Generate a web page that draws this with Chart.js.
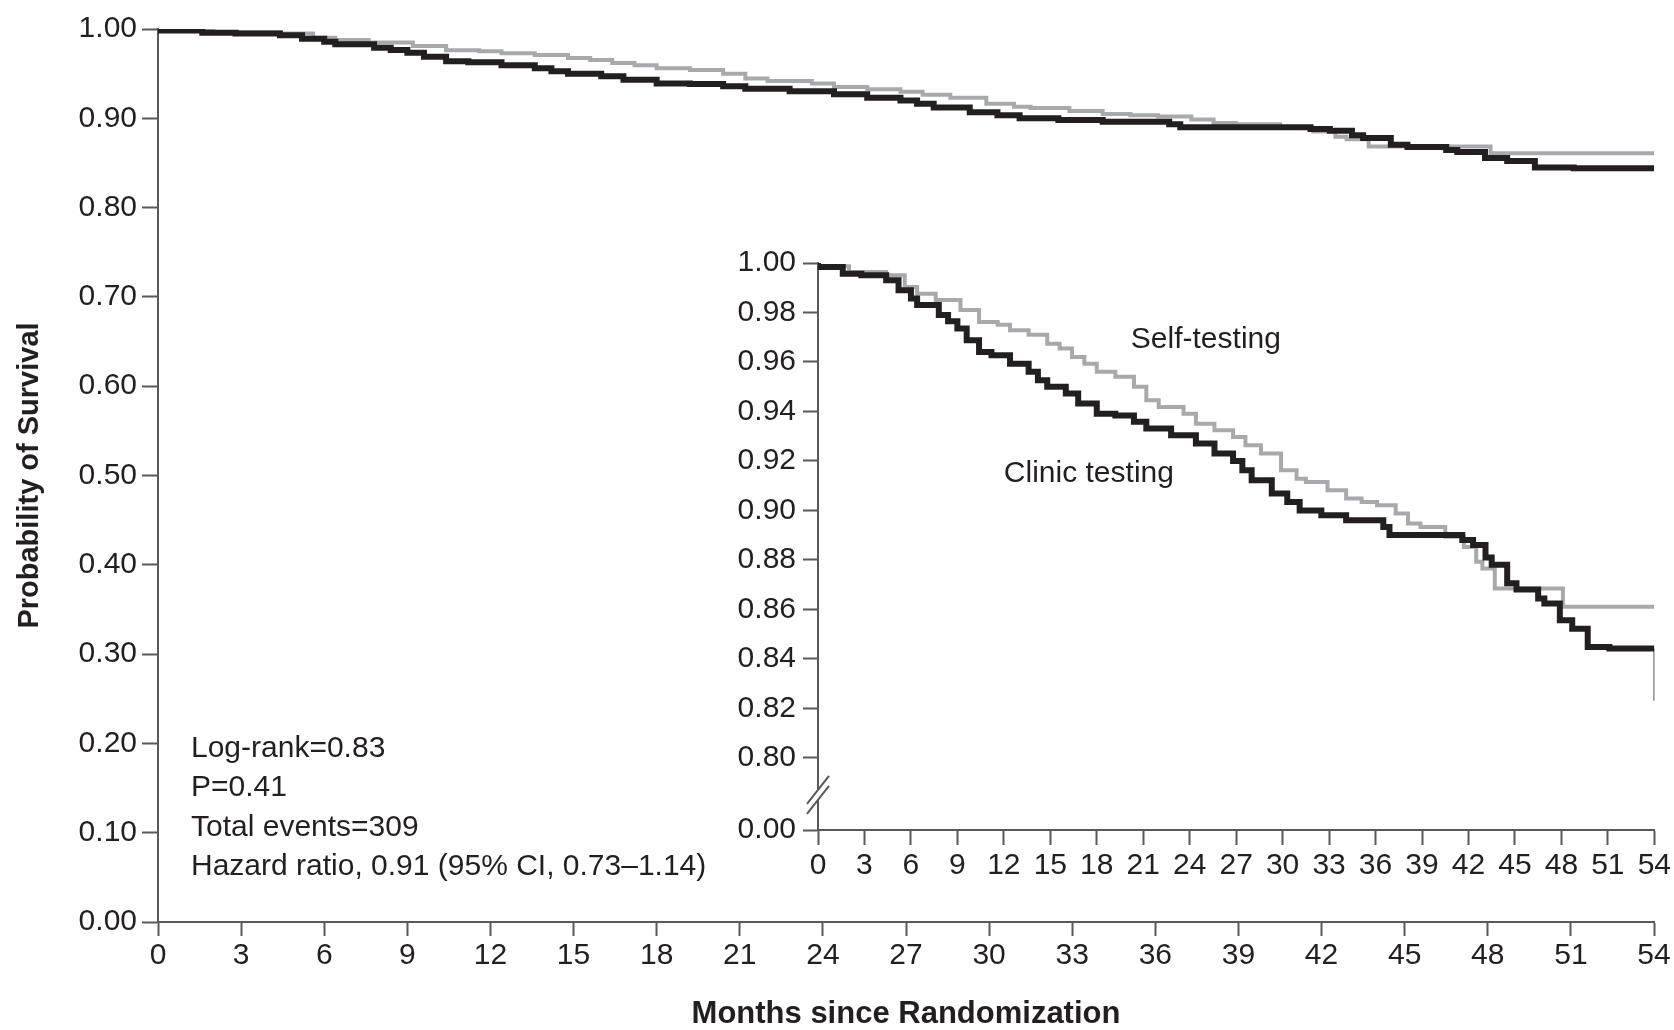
<!DOCTYPE html>
<html>
<head>
<meta charset="utf-8">
<script src="https://cdn.jsdelivr.net/npm/chart.js@4.4.1/dist/chart.umd.min.js"></script>
<style>
  html, body { margin: 0; padding: 0; background: #fff; }
  #wrap { position: relative; width: 1674px; height: 1030px; }
  #main { position: absolute; left: 0; top: 0; }
  #inset { position: absolute; left: 690px; top: 230px; }
</style>
</head>
<body>
<div id="wrap">
  <canvas id="main" width="1674" height="1030"></canvas>
  <canvas id="inset" width="984" height="680"></canvas>
</div>
<script>
// Kaplan-Meier curves (months, survival)
const clinicMonths = [0, 1.6, 2.8, 4.4, 5.2, 6.0, 6.4, 7.8, 8.4, 9.0, 9.6, 10.4, 11.2, 12.4, 13.6, 14.2, 14.8, 16.0, 16.8, 18.0, 19.2, 20.4, 21.2, 22.8, 24.4, 25.6, 26.8, 27.4, 28.0, 29.3, 30.3, 31.1, 32.5, 34.1, 36.5, 36.9, 41.6, 42.3, 43.1, 43.5, 44.5, 45.1, 46.5, 46.9, 47.9, 48.7, 49.7, 51.1, 54];
const clinicSurvival = [1.000, 0.9984, 0.9957, 0.995, 0.993, 0.989, 0.9856, 0.983, 0.979, 0.9765, 0.9735, 0.9688, 0.964, 0.9627, 0.9593, 0.956, 0.9526, 0.950, 0.9472, 0.9432, 0.9391, 0.9384, 0.9358, 0.9331, 0.9304, 0.927, 0.923, 0.920, 0.9162, 0.9122, 0.9068, 0.9034, 0.900, 0.898, 0.896, 0.8933, 0.890, 0.888, 0.886, 0.881, 0.878, 0.8705, 0.868, 0.8644, 0.8624, 0.8556, 0.8522, 0.8448, 0.8442];
const selfMonths = [0, 2.0, 4.4, 5.6, 6.4, 7.6, 9.2, 10.4, 11.6, 12.4, 13.6, 14.8, 15.6, 16.4, 17.2, 18.0, 19.2, 20.4, 21.2, 22.0, 23.6, 24.4, 25.6, 26.8, 27.6, 28.6, 29.9, 30.9, 31.5, 32.9, 34.1, 35.1, 36.1, 37.3, 38.1, 38.9, 40.5, 41.7, 42.5, 42.9, 43.7, 48.1, 51.5, 54];
const selfSurvival = [1.000, 0.9987, 0.9964, 0.995, 0.9903, 0.9876, 0.985, 0.981, 0.9762, 0.975, 0.9728, 0.971, 0.9674, 0.9654, 0.962, 0.9593, 0.956, 0.954, 0.950, 0.9445, 0.9418, 0.9391, 0.935, 0.9324, 0.9297, 0.9263, 0.923, 0.9162, 0.9128, 0.9115, 0.9081, 0.9048, 0.9034, 0.9021, 0.8987, 0.8947, 0.8933, 0.8893, 0.8852, 0.8792, 0.8765, 0.8684, 0.861, 0.861];
// censoring drop at the end of the clinic curve (inset only)
const clinicTailMonths = [54, 54];
const clinicTailSurvival = [0.8442, 0.823];

const seriesNames = ['Clinic testing', 'Self-testing'];
const monthTicks = [0, 3, 6, 9, 12, 15, 18, 21, 24, 27, 30, 33, 36, 39, 42, 45, 48, 51, 54];
const mainSurvivalTicks = [0, 0.1, 0.2, 0.3, 0.4, 0.5, 0.6, 0.7, 0.8, 0.9, 1.0];
const insetSurvivalTicks = [0.80, 0.82, 0.84, 0.86, 0.88, 0.90, 0.92, 0.94, 0.96, 0.98, 1.00];
const insetBreakLabel = '0.00';
const statsLines = ['Log-rank=0.83', 'P=0.41', 'Total events=309', 'Hazard ratio, 0.91 (95% CI, 0.73\u20131.14)'];

const INK = '#231f20';
const GREY = '#a7a9ac';
const AXIS = '#58595b';
const FONT = "'Liberation Sans', Arial, sans-serif";

Chart.defaults.font.family = FONT;
Chart.defaults.font.size = 30;
Chart.defaults.color = INK;

function toPoints(xs, ys) {
  return xs.map((x, i) => ({ x: x, y: ys[i] }));
}
function setTicks(values) {
  return scale => { scale.ticks = values.map(v => ({ value: v })); };
}
function fixWidth(w) {
  return scale => { scale.width = w; };
}
function fixHeight(h) {
  return scale => { scale.height = h; };
}
function axisGrid(len) {
  return { drawOnChartArea: false, drawTicks: true, tickLength: len, tickWidth: 2, tickColor: AXIS };
}
function curve(name, xs, ys, color, width) {
  return {
    label: name, data: toPoints(xs, ys), borderColor: color, borderWidth: width,
    stepped: 'after', pointRadius: 0, fill: false, borderJoinStyle: 'miter'
  };
}

// text block in the lower left of the main chart
const statsPlugin = {
  id: 'stats',
  afterDraw(chart) {
    const { ctx, chartArea } = chart;
    ctx.save();
    ctx.font = '30px ' + FONT;
    ctx.fillStyle = INK;
    ctx.textAlign = 'left';
    ctx.textBaseline = 'alphabetic';
    statsLines.forEach((line, i) => {
      ctx.fillText(line, chartArea.left + 33, chartArea.bottom - 165 + i * 39.3);
    });
    ctx.restore();
  }
};

new Chart(document.getElementById('main'), {
  type: 'line',
  data: {
    datasets: [
      curve(seriesNames[0], clinicMonths, clinicSurvival, INK, 6),
      curve(seriesNames[1], selfMonths, selfSurvival, GREY, 4)
    ]
  },
  options: {
    responsive: false,
    animation: false,
    devicePixelRatio: 1,
    layout: { padding: { left: 0, right: 20, top: 29, bottom: 0 } },
    plugins: { legend: { display: false }, tooltip: { enabled: false } },
    scales: {
      x: {
        type: 'linear', min: 0, max: 54,
        afterBuildTicks: setTicks(monthTicks),
        afterFit: fixHeight(108),
        grid: axisGrid(14),
        border: { color: AXIS, width: 2 },
        ticks: { autoSkip: false, maxRotation: 0, padding: 2, font: { size: 30, lineHeight: 1.2 }, callback: v => String(v) },
        title: { display: true, text: 'Months since Randomization', font: { size: 31, weight: 'bold', lineHeight: 1 }, padding: { top: 0, bottom: 0 } }
      },
      y: {
        type: 'linear', min: 0, max: 1,
        afterBuildTicks: setTicks(mainSurvivalTicks),
        afterFit: fixWidth(158),
        grid: axisGrid(16),
        border: { color: AXIS, width: 2 },
        ticks: { padding: 5, font: { size: 30 }, callback: v => v.toFixed(2) },
        title: { display: true, text: 'Probability of Survival', font: { size: 29, weight: 'bold', lineHeight: 1 }, padding: { top: 15, bottom: 0 } }
      }
    }
  },
  plugins: [statsPlugin]
});

// inset: curve labels and the axis break
const insetLabels = [
  { text: seriesNames[1], month: 20.2, value: 0.9655 },
  { text: seriesNames[0], month: 12.0, value: 0.9115 }
];
const INSET_MIN = 0.7708;

const insetPlugin = {
  id: 'insetDecor',
  afterDraw(chart) {
    const { ctx, chartArea, scales } = chart;
    ctx.save();
    ctx.font = '30px ' + FONT;
    ctx.fillStyle = INK;
    ctx.textAlign = 'left';
    ctx.textBaseline = 'alphabetic';
    insetLabels.forEach(l => {
      ctx.fillText(l.text, scales.x.getPixelForValue(l.month), scales.y.getPixelForValue(l.value));
    });
    // break marks on the y axis
    const ax = chartArea.left;
    const c = (scales.y.getPixelForValue(0.80) + chartArea.bottom) / 2 + 1;
    ctx.fillStyle = '#fff';
    ctx.fillRect(ax - 3, c - 5, 6, 10);
    ctx.strokeStyle = AXIS;
    ctx.lineWidth = 2;
    [-5, 5].forEach(off => {
      ctx.beginPath();
      ctx.moveTo(ax - 11, c + off + 14);
      ctx.lineTo(ax + 11, c + off - 14);
      ctx.stroke();
    });
    ctx.restore();
  }
};

new Chart(document.getElementById('inset'), {
  type: 'line',
  data: {
    datasets: [
      curve(seriesNames[0], clinicMonths, clinicSurvival, INK, 6),
      curve(seriesNames[1], selfMonths, selfSurvival, GREY, 4),
      curve('', clinicTailMonths, clinicTailSurvival, INK, 1.5)
    ]
  },
  options: {
    responsive: false,
    animation: false,
    devicePixelRatio: 1,
    layout: { padding: { left: 0, right: 19, top: 33, bottom: 0 } },
    plugins: { legend: { display: false }, tooltip: { enabled: false } },
    scales: {
      x: {
        type: 'linear', min: 0, max: 54,
        afterBuildTicks: setTicks(monthTicks),
        afterFit: fixHeight(80),
        grid: axisGrid(15),
        border: { color: AXIS, width: 2 },
        ticks: { autoSkip: false, maxRotation: 0, padding: 3, font: { size: 30, lineHeight: 1.2 }, callback: v => String(v) }
      },
      y: {
        type: 'linear', min: INSET_MIN, max: 1,
        afterBuildTicks: scale => { scale.ticks = [INSET_MIN].concat(insetSurvivalTicks).map(v => ({ value: v })); },
        afterFit: fixWidth(128),
        grid: axisGrid(15),
        border: { color: AXIS, width: 2 },
        ticks: { padding: 7, font: { size: 30 }, callback: v => (v < 0.79 ? insetBreakLabel : v.toFixed(2)) }
      }
    }
  },
  plugins: [insetPlugin]
});
</script>
</body>
</html>
